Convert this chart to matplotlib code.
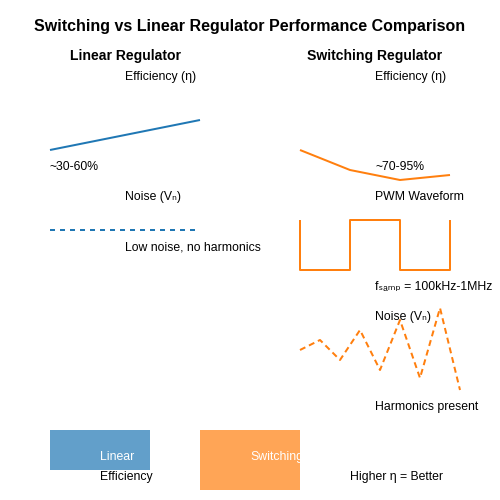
import matplotlib.pyplot as plt

plt.rcParams['font.family'] = ['Liberation Sans', 'DejaVu Sans']

blue = '#1f77b4'
orange = '#ff7f0e'

# everything is laid out in a 500x500 pixel space, y pointing down
lin_eff_x = [50, 200]
lin_eff_y = [150, 120]
lin_noise_x = [50, 195]
lin_noise_y = [230, 230]

sw_eff_x = [300, 350, 400, 450]
sw_eff_y = [150, 170, 180, 175]
pwm_x = [300, 300, 350, 350, 400, 400, 450, 450]
pwm_y = [220, 270, 270, 220, 220, 270, 270, 220]
sw_noise_x = [300, 320, 340, 360, 380, 400, 420, 440, 460]
sw_noise_y = [350, 340, 360, 330, 370, 320, 378, 308, 390]

bar_names = ['Linear', 'Switching']
bar_x = [50, 200]
bar_h = [40, 60]

fig = plt.figure(figsize=(5, 5), dpi=100)
ax = fig.add_axes([0, 0, 1, 1])
ax.set_xlim(0, 500)
ax.set_ylim(500, 0)
ax.axis('off')

px = 72 / 100  # pixels -> points
small = 12.2 * px
lw = 2 * px

ax.text(250, 31, 'Switching vs Linear Regulator Performance Comparison',
        ha='center', va='baseline', fontsize=16 * px, fontweight='bold')
ax.text(125, 60, 'Linear Regulator', ha='center', va='baseline',
        fontsize=14 * px, fontweight='bold')
ax.text(375, 60, 'Switching Regulator', ha='center', va='baseline',
        fontsize=14 * px, fontweight='bold')

# linear side
ax.text(125, 80, 'Efficiency (η)', va='baseline', fontsize=small)
ax.plot(lin_eff_x, lin_eff_y, color=blue, lw=lw, solid_capstyle='butt')
ax.text(50, 170, '~30-60%', va='baseline', fontsize=small)
ax.text(125, 200, 'Noise (Vₙ)', va='baseline', fontsize=small)
ax.plot(lin_noise_x, lin_noise_y, color=blue, lw=lw, dashes=(2.5, 2.5))
ax.text(125, 250, 'Low noise, no harmonics', va='baseline', fontsize=small)

# switching side
ax.text(375, 80, 'Efficiency (η)', va='baseline', fontsize=small)
ax.plot(sw_eff_x, sw_eff_y, color=orange, lw=lw, solid_capstyle='butt')
ax.text(375, 170, '~70-95%', va='baseline', fontsize=small)
ax.text(375, 200, 'PWM Waveform', va='baseline', fontsize=small)
ax.plot(pwm_x, pwm_y, color=orange, lw=lw, solid_capstyle='butt')
ax.text(375, 290, 'fₛₐₘₚ = 100kHz-1MHz', va='baseline', fontsize=small)
ax.text(375, 320, 'Noise (Vₙ)', va='baseline', fontsize=small)
ax.plot(sw_noise_x, sw_noise_y, color=orange, lw=lw, dashes=(3, 2))
ax.text(375, 410, 'Harmonics present', va='baseline', fontsize=small)

# efficiency bars
ax.bar(bar_x, bar_h, width=100, bottom=430, align='edge',
       color=[blue, orange], alpha=0.7)
for x, name in zip(bar_x, bar_names):
    ax.text(x + 50, 460, name, va='baseline', color='white', fontsize=small)
ax.text(100, 480, 'Efficiency', va='baseline', fontsize=small)
ax.text(350, 480, 'Higher η = Better', va='baseline', fontsize=small)

fig.savefig('out.png', dpi=100)
